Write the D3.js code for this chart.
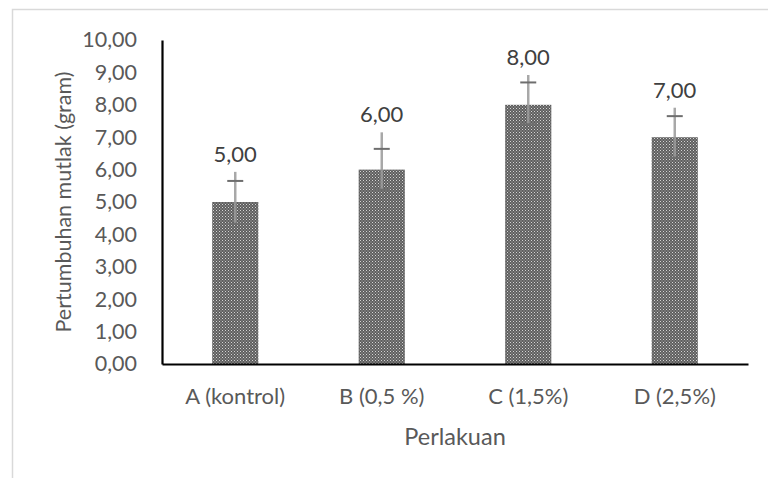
<!DOCTYPE html>
<html><head><meta charset="utf-8">
<script src="https://cdn.jsdelivr.net/npm/d3@7"></script>
<style>body{margin:0;background:#fff}svg{display:block}</style>
</head><body><svg id="c" width="768" height="478"></svg>
<script>
const categories = ["A (kontrol)", "B (0,5 %)", "C (1,5%)", "D (2,5%)"];
const values = [5.00, 6.00, 8.00, 7.00];
const errLow = [0.67, 0.62, 0.60, 0.63];
const errHigh = [0.65, 0.64, 0.69, 0.65];
const whiskerTop = [5.93, 7.15, 8.92, 7.91];
const yTicks = [0,1,2,3,4,5,6,7,8,9,10];
const yTitle = "Pertumbuhan mutlak (gram)";
const xTitle = "Perlakuan";

const svg = d3.select("#c");
const font = "Lato, Open Sans, sans-serif";
const m = {l:162, r:20, t:40, b:114};
const W = 768, H = 478;
const x = d3.scaleBand().domain(categories).range([m.l, W - m.r]).paddingInner(0.685).paddingOuter(0.3425);
const y = d3.scaleLinear().domain([0, 10]).range([H - m.b, m.t]);

// outer frame
svg.append("path").attr("d", `M12.5,${H+2}V9.5H${W+2}`).attr("fill","none").attr("stroke","#d9d9d9").attr("stroke-width",1.5);

// pattern
const defs = svg.append("defs");
const pat = defs.append("pattern").attr("id","pt").attr("patternUnits","userSpaceOnUse").attr("width",3).attr("height",3);
pat.append("rect").attr("width",3).attr("height",3).attr("fill","#5e5e5e");
pat.append("rect").attr("x",0).attr("y",0).attr("width",1).attr("height",1).attr("fill","#d4d4d4");
pat.append("rect").attr("x",1.5).attr("y",1.5).attr("width",1).attr("height",1).attr("fill","#b8b8b8");

// bars
svg.selectAll("rect.bar").data(categories).join("rect").attr("class","bar")
  .attr("x", d => x(d)).attr("width", x.bandwidth())
  .attr("y", (d,i) => y(values[i])).attr("height", (d,i) => y(0) - y(values[i]))
  .attr("fill","url(#pt)");

// error bars
const eg = svg.append("g");
categories.forEach((c,i) => {
  const cx = x(c) + x.bandwidth()/2;
  eg.append("line").attr("x1",cx).attr("x2",cx).attr("y1",y(whiskerTop[i])).attr("y2",y(values[i]-errLow[i]))
    .attr("stroke","#9a9a9a").attr("stroke-width",2.5).attr("opacity",0.85);
  [values[i]+errHigh[i], values[i]-errLow[i]].forEach(v => {
    eg.append("line").attr("x1",cx-8).attr("x2",cx+8).attr("y1",y(v)).attr("y2",y(v))
      .attr("stroke","#6e6e6e").attr("stroke-width",2);
  });
  svg.append("text").attr("x",cx).attr("y",y(whiskerTop[i]) - 10)
    .attr("text-anchor","middle").attr("font-family",font).attr("font-size",22).attr("fill","#404040")
    .text(d3.format(".2f")(values[i]).replace(".",","));
});

// y axis
const ya = svg.append("g").attr("transform",`translate(${m.l},0)`)
  .call(d3.axisLeft(y).tickValues(yTicks).tickSize(0).tickPadding(25).tickFormat(d => d3.format(".2f")(d).replace(".",",")));
ya.select(".domain").attr("stroke","#000").attr("stroke-width",2.2);
ya.selectAll("text").attr("font-family",font).attr("font-size",21.5).attr("fill","#595959");

// x axis
const xa = svg.append("g").attr("transform",`translate(0,${y(0)})`)
  .call(d3.axisBottom(x).tickSize(0).tickPadding(24));
xa.select(".domain").attr("stroke","#000").attr("stroke-width",2.2);
xa.selectAll("text").attr("font-family",font).attr("font-size",22).attr("fill","#595959");

// titles
svg.append("text").attr("transform",`translate(71,${(y(0)+y(10))/2}) rotate(-90)`)
  .attr("text-anchor","middle").attr("font-family",font).attr("font-size",21.5).attr("fill","#595959").text(yTitle);
svg.append("text").attr("x",(m.l + W - m.r)/2).attr("y",445)
  .attr("text-anchor","middle").attr("font-family",font).attr("font-size",23.5).attr("fill","#595959").text(xTitle);
</script></body></html>
